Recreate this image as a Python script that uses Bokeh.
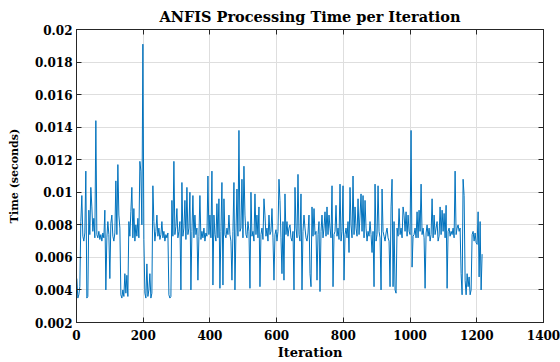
from bokeh.plotting import figure
from bokeh.models import Range1d, FixedTicker, LinearAxis, CustomJSTickFormatter
from bokeh.embed import file_html
from bokeh.resources import INLINE

# ANFIS processing time per iteration (milliseconds),
# one value per 3 iterations
time_ms = [
    4.7, 3.5, 3.7, 4.2, 8.2, 9.8, 7.3, 7.0, 7.5, 11.3,
    3.5, 3.6, 8.9, 7.4, 10.3, 9.1, 7.6, 8.4, 7.2, 14.4,
    7.4, 7.2, 7.6, 7.1, 7.4, 7.0, 7.5, 7.2, 8.9, 4.0,
    7.2, 8.2, 7.4, 4.7, 8.1, 8.6, 7.3, 7.0, 7.5, 10.7,
    7.4, 11.7, 8.6, 7.8, 3.7, 3.5, 4.0, 3.6, 5.0, 3.8,
    4.9, 3.6, 8.2, 7.3, 8.8, 10.3, 7.2, 9.0, 7.0, 8.0,
    7.3, 8.4, 7.2, 11.9, 11.3, 8.0, 19.1, 7.1, 3.8, 3.5,
    5.6, 3.6, 4.0, 5.0, 3.5, 3.8, 10.4, 8.2, 7.0, 7.6,
    8.6, 7.3, 7.8, 7.1, 7.4, 8.2, 7.2, 7.6, 7.0, 7.4,
    7.2, 7.5, 3.7, 3.5, 3.6, 9.5, 7.3, 11.9, 7.4, 7.9,
    9.0, 7.2, 7.6, 8.2, 4.0, 10.6, 7.3, 7.8, 9.5, 7.1,
    10.3, 7.4, 7.8, 10.0, 4.0, 7.6, 9.8, 7.2, 8.6, 7.4,
    7.8, 4.6, 7.3, 9.8, 7.1, 7.6, 7.2, 7.8, 7.0, 7.5,
    7.3, 11.0, 7.4, 8.6, 7.2, 11.3, 4.3, 8.6, 7.4, 7.0,
    9.3, 7.2, 9.6, 4.1, 7.6, 10.6, 4.3, 9.6, 7.4, 7.2,
    7.8, 7.4, 8.6, 7.4, 7.0, 4.6, 7.6, 10.6, 4.0, 7.5,
    10.2, 7.3, 13.8, 7.6, 7.8, 10.8, 7.2, 11.6, 8.6, 7.4,
    7.2, 8.2, 7.6, 4.1, 10.0, 7.3, 7.6, 7.0, 9.9, 7.4,
    8.6, 7.2, 9.1, 4.2, 7.4, 7.8, 7.1, 9.6, 8.6, 7.3,
    7.8, 7.0, 8.6, 7.4, 7.6, 9.0, 7.2, 4.6, 7.4, 7.7,
    7.0, 7.6, 10.8, 9.5, 7.2, 5.0, 8.2, 4.6, 9.9, 7.4,
    8.2, 7.3, 7.8, 8.0, 7.2, 7.0, 7.6, 4.0, 10.3, 7.8,
    7.2, 11.1, 7.4, 7.0, 9.9, 4.0, 7.6, 8.6, 7.8, 7.2,
    7.0, 7.5, 8.6, 5.0, 4.2, 9.1, 7.3, 9.0, 7.4, 7.6,
    4.6, 7.4, 8.2, 3.9, 7.6, 8.6, 7.2, 7.8, 8.8, 7.3,
    9.1, 7.4, 8.6, 7.8, 7.2, 10.4, 4.2, 7.4, 7.6, 9.2,
    7.3, 7.8, 7.1, 10.5, 7.0, 7.6, 10.4, 4.6, 7.4, 7.8,
    7.2, 8.2, 6.3, 10.3, 8.0, 7.2, 11.0, 7.4, 9.1, 7.8,
    7.3, 9.6, 7.4, 8.6, 9.9, 7.6, 9.8, 7.2, 9.5, 7.8,
    7.0, 7.6, 7.3, 8.2, 7.4, 6.3, 7.6, 4.2, 10.5, 7.0,
    7.4, 10.4, 7.6, 7.2, 4.0, 10.2, 7.6, 7.3, 7.0, 7.5,
    7.8, 7.2, 7.0, 4.2, 9.1, 10.8, 4.2, 8.2, 4.0, 3.8,
    7.8, 7.3, 9.0, 7.4, 7.8, 7.2, 9.1, 8.6, 7.6, 8.8,
    7.3, 8.6, 7.6, 7.4, 13.8, 5.4, 7.3, 7.4, 7.8, 7.2,
    8.8, 7.2, 8.9, 7.6, 10.5, 7.4, 7.8, 7.2, 4.1, 7.5,
    8.0, 7.3, 7.8, 7.0, 7.4, 9.6, 7.2, 8.6, 7.4, 7.8,
    8.2, 7.0, 7.3, 9.1, 7.4, 8.9, 7.6, 8.7, 7.2, 9.2,
    4.1, 7.6, 7.8, 7.3, 7.6, 7.4, 7.8, 7.2, 11.3, 7.4,
    7.8, 8.0, 7.6, 7.8, 5.0, 3.7, 10.8, 9.8, 4.6, 3.7,
    5.0, 4.2, 4.8, 3.7, 4.0, 7.4, 7.6, 7.0, 7.5, 6.9,
    6.8, 8.8, 4.8, 8.2, 4.0, 6.2,
]
iteration_step = 3
iterations = list(range(1, 1 + iteration_step * len(time_ms), iteration_step))
time_s = [v / 1000.0 for v in time_ms]

x_ticks = [0, 200, 400, 600, 800, 1000, 1200, 1400]
y_ticks = [0.002, 0.004, 0.006, 0.008, 0.010, 0.012, 0.014, 0.016, 0.018, 0.020]

title_text = "ANFIS Processing Time per Iteration"
x_label = "Iteration"
y_label = "Time (seconds)"

FONT = "DejaVu Serif"
AX = "#262626"
GRID = "#dedede"
LINE = "#0072BD"

p = figure(
    width=560, height=362,
    output_backend="svg", toolbar_location=None,
    x_range=Range1d(0, 1400), y_range=Range1d(0.002, 0.02),
    min_border_left=76, min_border_right=17,
    min_border_top=28, min_border_bottom=38,
    background_fill_color="white", border_fill_color="white",
)

p.title.text = title_text
p.title.align = "center"
p.title.text_font = FONT
p.title.text_font_size = "14.5px"
p.title.text_font_style = "bold"
p.title.text_color = "black"

p.line(iterations, time_s, line_color=LINE, line_width=1)

p.outline_line_color = AX
p.outline_line_width = 1

xt = FixedTicker(ticks=x_ticks)
yt = FixedTicker(ticks=y_ticks)

p.xaxis.ticker = xt
p.yaxis.ticker = yt
p.xgrid.ticker = xt
p.ygrid.ticker = yt
for g in (p.xgrid, p.ygrid):
    g.grid_line_color = GRID
    g.grid_line_width = 1

p.yaxis.formatter = CustomJSTickFormatter(code="return String(Number(tick.toFixed(3)));")

for ax in (p.xaxis, p.yaxis):
    ax.axis_line_color = AX
    ax.major_tick_line_color = AX
    ax.major_tick_in = 5
    ax.major_tick_out = 0
    ax.minor_tick_line_color = None
    ax.major_label_text_font = FONT
    ax.major_label_text_font_style = "bold"
    ax.major_label_text_font_size = "12px"
    ax.major_label_text_color = "black"
    ax.axis_label_text_font = FONT
    ax.axis_label_text_font_style = "bold"
    ax.axis_label_text_color = "black"

p.xaxis.axis_label = x_label
p.xaxis.axis_label_text_font_size = "13px"
p.xaxis.major_label_standoff = 7
p.xaxis.axis_label_standoff = 2

p.yaxis.axis_label = y_label
p.yaxis.axis_label_text_font_size = "11px"
p.yaxis.major_label_standoff = 4
p.yaxis.axis_label_standoff = 11

for loc, tk in (("above", xt), ("right", yt)):
    a = LinearAxis(ticker=tk, major_label_text_font_size="0px", major_label_text_color=None,
                   major_label_standoff=0,
                   major_tick_in=5, major_tick_out=0, minor_tick_line_color=None,
                   axis_line_color=AX, major_tick_line_color=AX)
    p.add_layout(a, loc)

open("out.html", "w").write(file_html(p, INLINE))
